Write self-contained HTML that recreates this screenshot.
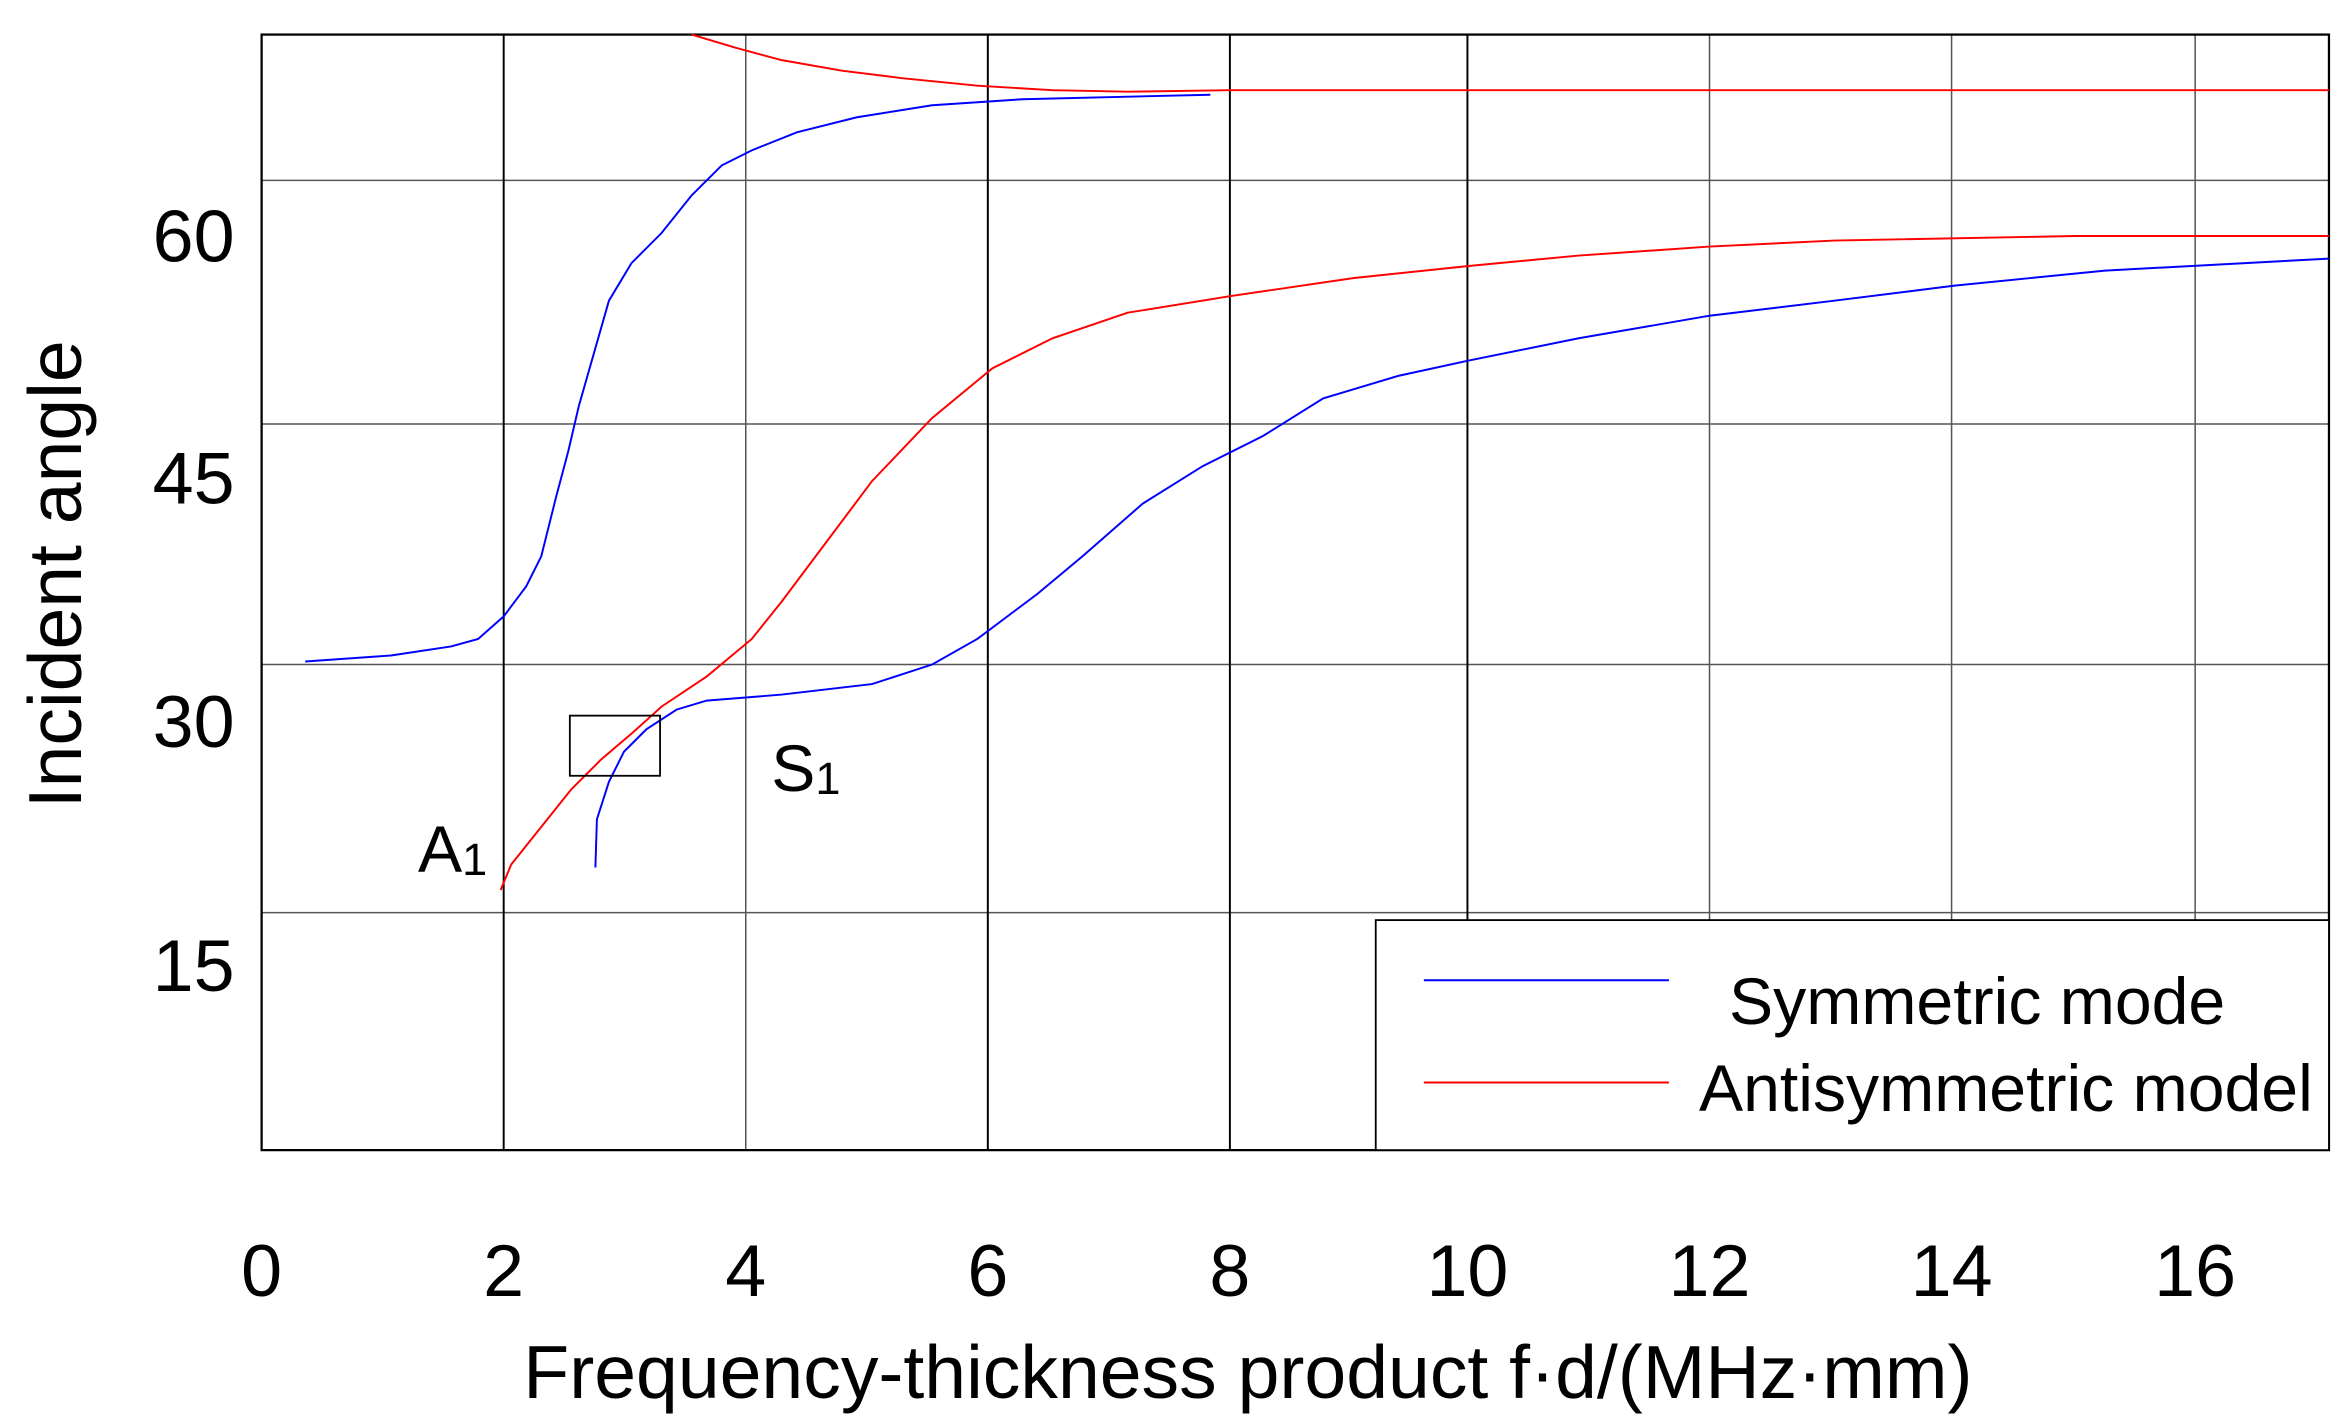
<!DOCTYPE html>
<html><head><meta charset="utf-8"><style>html,body{margin:0;padding:0;background:#fff}svg{display:block}</style></head>
<body>
<svg width="2344" height="1423" viewBox="0 0 1559 946.5" preserveAspectRatio="none" xmlns="http://www.w3.org/2000/svg" font-family="Liberation Sans, Arial, sans-serif">
<rect width="1559" height="946.5" fill="#fff"/>
<g stroke="#555" stroke-width="1">
<line x1="174" y1="120" x2="1549" y2="120"/>
<line x1="174" y1="282" x2="1549" y2="282"/>
<line x1="174" y1="442" x2="1549" y2="442"/>
<line x1="174" y1="607" x2="1549" y2="607"/>
<line x1="496" y1="23" x2="496" y2="765"/>
<line x1="1137" y1="23" x2="1137" y2="765"/>
<line x1="1298" y1="23" x2="1298" y2="765"/>
<line x1="1460" y1="23" x2="1460" y2="765"/>
</g>
<g stroke="#000" stroke-width="1.3">
<line x1="335" y1="23" x2="335" y2="765"/>
<line x1="657" y1="23" x2="657" y2="765"/>
<line x1="818" y1="23" x2="818" y2="765"/>
<line x1="976" y1="23" x2="976" y2="765"/>
</g>
<rect x="174" y="23" width="1375" height="742" fill="none" stroke="#000" stroke-width="1.5"/>
<g fill="none" stroke-width="1.3">
<polyline stroke="#00f" points="203,440 260,436 300,430 318,425 335,410 350,390 360,370 370,330 378,300 385,270 395,235 405,200 420,175 440,155 460,130 480,110 500,100 530,88 570,78 620,70 680,66 805,63"/>
<polyline stroke="#f00" points="460,23 490,32 520,40 560,47 600,52 650,57 700,60 750,61 818,60 1549,60"/>
<polyline stroke="#f00" points="333,592 340,575 360,550 380,525 400,505 420,488 440,470 470,450 500,425 520,400 550,360 580,320 620,278 660,245 700,225 750,208 818,197 900,185 976,177 1050,170 1137,164 1220,160 1380,157 1549,157"/>
<polyline stroke="#00f" points="396,577 397,545 405,520 415,500 430,485 450,472 470,466 520,462 580,455 620,442 650,425 690,395 720,370 760,335 800,310 840,290 880,265 930,250 976,240 1050,225 1137,210 1220,200 1300,190 1400,180 1549,172"/>
</g>
<rect x="379" y="476" width="60" height="40" fill="none" stroke="#000" stroke-width="1.2"/>
<rect x="915" y="612" width="634" height="153" fill="#fff" stroke="#000" stroke-width="1.2"/>
<line x1="947" y1="652" x2="1110" y2="652" stroke="#00f" stroke-width="1.3"/>
<line x1="947" y1="720" x2="1110" y2="720" stroke="#f00" stroke-width="1.3"/>
<g font-size="44" fill="#000">
<text x="1150" y="681">Symmetric mode</text>
<text x="1130" y="739">Antisymmetric model</text>
<text x="278" y="580">A<tspan font-size="30" dy="2">1</tspan></text>
<text x="513" y="526">S<tspan font-size="30" dy="2">1</tspan></text>
</g>
<g font-size="49" fill="#000" text-anchor="middle">
<text x="174" y="862">0</text><text x="335" y="862">2</text><text x="496" y="862">4</text>
<text x="657" y="862">6</text><text x="818" y="862">8</text><text x="976" y="862">10</text>
<text x="1137" y="862">12</text><text x="1298" y="862">14</text><text x="1460" y="862">16</text>
</g>
<g font-size="49" fill="#000" text-anchor="end">
<text x="156" y="174">60</text><text x="156" y="335">45</text>
<text x="156" y="497">30</text><text x="156" y="659">15</text>
</g>
<text x="830" y="930" font-size="50" text-anchor="middle">Frequency-thickness product f·d/(MHz·mm)</text>
<text transform="translate(54,382) rotate(-90)" font-size="50" text-anchor="middle">Incident angle</text>
</svg>
</body></html>
